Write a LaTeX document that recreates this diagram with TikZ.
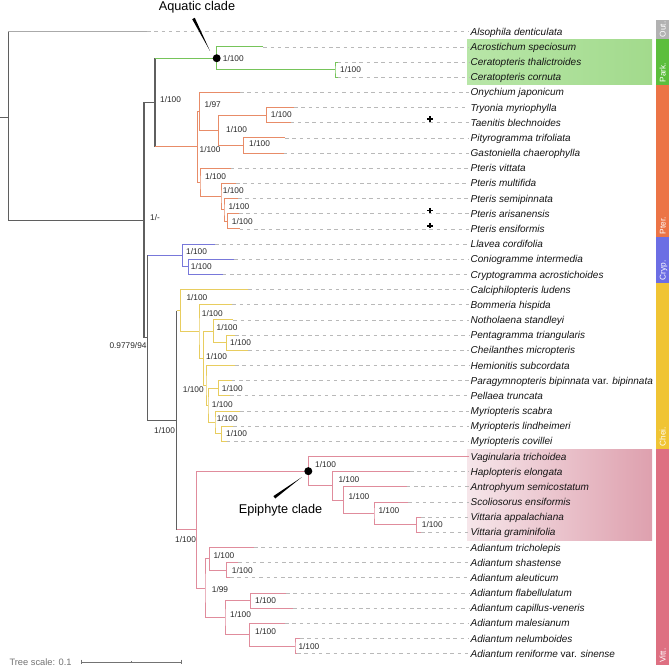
\documentclass[tikz,border=0pt]{standalone}
\usepackage{fontspec}
\setmainfont{Liberation Sans}
\usetikzlibrary{calc}
\definecolor{cgreen}{RGB}{118,196,90}
\definecolor{corange}{RGB}{232,140,104}
\definecolor{cblue}{RGB}{120,120,218}
\definecolor{cyellow}{RGB}{232,205,95}
\definecolor{cpink}{RGB}{224,140,156}
\definecolor{cback}{RGB}{95,95,95}
\definecolor{cout}{RGB}{170,170,170}
\definecolor{cdash}{RGB}{185,185,185}
\definecolor{ctxt}{RGB}{20,20,20}
\definecolor{cbs}{RGB}{40,40,40}
\definecolor{bout}{RGB}{178,178,178}
\definecolor{bpark}{RGB}{92,190,60}
\definecolor{bpter}{RGB}{236,116,70}
\definecolor{bcryp}{RGB}{108,110,228}
\definecolor{bchei}{RGB}{240,196,52}
\definecolor{bvitt}{RGB}{222,112,130}
\definecolor{hgL}{RGB}{184,230,168}
\definecolor{hgR}{RGB}{162,218,140}
\definecolor{hpL}{RGB}{246,230,234}
\definecolor{hpR}{RGB}{222,160,174}
\newcommand{\fTX}{\fontsize{10}{12}\selectfont\itshape}
\newcommand{\fBS}{\fontsize{8.3}{10}\selectfont}
\newcommand{\kids}[4]{\draw[#1,br] (#3) -| (#2) |- (#4);}
\begin{document}
\begin{tikzpicture}[x=1pt,y=-1pt,
  br/.style={line width=0.9pt},
  bb/.style={draw=cback,line width=1.1pt},
  dashl/.style={draw=cdash,line width=0.7pt,dash pattern=on 3.5pt off 3.8pt},
  taxon/.style={anchor=west,font=\fTX,text=ctxt,inner xsep=1.5pt,inner ysep=0pt,text height=7.2pt,text depth=0pt},
  bs/.style={anchor=west,font=\fBS,text=cbs,inner sep=0pt,text height=5.9pt,text depth=0pt},
  bandlab/.style={rotate=90,anchor=west,font=\fontsize{8.3}{10}\selectfont,text=white,inner sep=0pt,text height=6pt,text depth=0pt},
  annot/.style={font=\fontsize{12.7}{15}\selectfont,text=black,anchor=base,inner sep=0pt}]
\useasboundingbox (0,0) rectangle (669,668);

% highlight boxes
\fill[left color=hgL,right color=hgR] (467,39.3) rectangle (652,85);
\fill[left color=hpL,right color=hpR] (467,449) rectangle (652,540);

% clade colour strip
\fill[bout] (656,20.5) rectangle (669,39.3);
\fill[bpark] (656,39.3) rectangle (669,85);
\fill[bpter] (656,85) rectangle (669,236.7);
\fill[bcryp] (656,236.7) rectangle (669,282.7);
\fill[bchei] (656,282.7) rectangle (669,449);
\fill[bvitt] (656,449) rectangle (669,665);
\node[bandlab] (sOut) at (662.5,37.5) {Out.};
\node[bandlab] (sPark) at (662.5,82.5) {Park.};
\node[bandlab] (sPter) at (662.5,234.5) {Pter.};
\node[bandlab] (sCryp) at (662.5,280.5) {Cryp.};
\node[bandlab] (sChei) at (662.5,446.5) {Chei.};
\node[bandlab] (sVitt) at (662.5,663) {Vitt.};

% leaves and taxon labels
\coordinate (l1) at (147,31.70);   \node[taxon] (t1) at (469,31.70) {Alsophila denticulata};
\coordinate (l2) at (263.3,46.87); \node[taxon] (t2) at (469,46.87) {Acrostichum speciosum};
\coordinate (l3) at (337.5,62.04); \node[taxon] (t3) at (469,62.04) {Ceratopteris thalictroides};
\coordinate (l4) at (337.5,77.21); \node[taxon] (t4) at (469,77.21) {Ceratopteris cornuta};
\coordinate (l5) at (240,92.38);   \node[taxon] (t5) at (469,92.38) {Onychium japonicum};
\coordinate (l6) at (294,107.55);  \node[taxon] (t6) at (469,107.55) {Tryonia myriophylla};
\coordinate (l7) at (290.5,122.72);\node[taxon] (t7) at (469,122.72) {Taenitis blechnoides};
\coordinate (l8) at (285,137.89);  \node[taxon] (t8) at (469,137.89) {Pityrogramma trifoliata};
\coordinate (l9) at (283.5,153.06);\node[taxon] (t9) at (469,153.06) {Gastoniella chaerophylla};
\coordinate (l10) at (230.7,168.23);\node[taxon] (t10) at (469,168.23) {Pteris vittata};
\coordinate (l11) at (236,183.40); \node[taxon] (t11) at (469,183.40) {Pteris multifida};
\coordinate (l12) at (238,198.57); \node[taxon] (t12) at (469,198.57) {Pteris semipinnata};
\coordinate (l13) at (239,213.74); \node[taxon] (t13) at (469,213.74) {Pteris arisanensis};
\coordinate (l14) at (239.5,228.91);\node[taxon] (t14) at (469,228.91) {Pteris ensiformis};
\coordinate (l15) at (215,244.08); \node[taxon] (t15) at (469,244.08) {Llavea cordifolia};
\coordinate (l16) at (234.3,259.25);\node[taxon] (t16) at (469,259.25) {Coniogramme intermedia};
\coordinate (l17) at (222.7,274.42);\node[taxon] (t17) at (469,274.42) {Cryptogramma acrostichoides};
\coordinate (l18) at (248.3,289.59);\node[taxon] (t18) at (469,289.59) {Calciphilopteris ludens};
\coordinate (l19) at (232.3,304.76);\node[taxon] (t19) at (469,304.76) {Bommeria hispida};
\coordinate (l20) at (233.3,319.93);\node[taxon] (t20) at (469,319.93) {Notholaena standleyi};
\coordinate (l21) at (235,335.10); \node[taxon] (t21) at (469,335.10) {Pentagramma triangularis};
\coordinate (l22) at (248.3,350.27);\node[taxon] (t22) at (469,350.27) {Cheilanthes micropteris};
\coordinate (l23) at (235,365.44); \node[taxon] (t23) at (469,365.44) {Hemionitis subcordata};
\coordinate (l24) at (231.7,380.61);\node[taxon] (t24) at (469,380.61) {Paragymnopteris bipinnata \textup{var.} bipinnata};
\coordinate (l25) at (230,395.78); \node[taxon] (t25) at (469,395.78) {Pellaea truncata};
\coordinate (l26) at (240,410.95); \node[taxon] (t26) at (469,410.95) {Myriopteris scabra};
\coordinate (l27) at (233.3,426.12);\node[taxon] (t27) at (469,426.12) {Myriopteris lindheimeri};
\coordinate (l28) at (226.7,441.29);\node[taxon] (t28) at (469,441.29) {Myriopteris covillei};
\coordinate (l29) at (469,456.46); \node[taxon] (t29) at (469,456.46) {Vaginularia trichoidea};
\coordinate (l30) at (410,471.63); \node[taxon] (t30) at (469,471.63) {Haplopteris elongata};
\coordinate (l31) at (406.7,486.80);\node[taxon] (t31) at (469,486.80) {Antrophyum semicostatum};
\coordinate (l32) at (408.3,501.97);\node[taxon] (t32) at (469,501.97) {Scoliosorus ensiformis};
\coordinate (l33) at (421,517.14); \node[taxon] (t33) at (469,517.14) {Vittaria appalachiana};
\coordinate (l34) at (421,532.31); \node[taxon] (t34) at (469,532.31) {Vittaria graminifolia};
\coordinate (l35) at (254,547.48); \node[taxon] (t35) at (469,547.48) {Adiantum tricholepis};
\coordinate (l36) at (238.3,562.65);\node[taxon] (t36) at (469,562.65) {Adiantum shastense};
\coordinate (l37) at (230,577.82); \node[taxon] (t37) at (469,577.82) {Adiantum aleuticum};
\coordinate (l38) at (286,592.99); \node[taxon] (t38) at (469,592.99) {Adiantum flabellulatum};
\coordinate (l39) at (293.3,608.16);\node[taxon] (t39) at (469,608.16) {Adiantum capillus-veneris};
\coordinate (l40) at (285,623.33); \node[taxon] (t40) at (469,623.33) {Adiantum malesianum};
\coordinate (l41) at (300,638.50); \node[taxon] (t41) at (469,638.50) {Adiantum nelumboides};
\coordinate (l42) at (297,653.67); \node[taxon] (t42) at (469,653.67) {Adiantum reniforme \textup{var.} sinense};

\foreach \i in {1,...,28,30,31,...,42} \draw[dashl] (l\i) -- (t\i.west);

% internal nodes
\coordinate (nCer) at (335,69.63);
\coordinate (nAq) at (216.7,58.25);
\coordinate (nD) at (266.7,115.14);
\coordinate (nE) at (243.3,145.48);
\coordinate (nC) at (218.3,130.31);
\coordinate (nA) at (199.3,111.35);
\coordinate (nH) at (227.3,221.33);
\coordinate (nG) at (224,209.95);
\coordinate (nF) at (221,196.68);
\coordinate (nB) at (200,182.46);
\coordinate (nPter) at (197.3,146.91);
\coordinate (nPP) at (155,102.58);
\coordinate (nCr2) at (188.3,266.84);
\coordinate (nCryp) at (182.7,255.46);
\coordinate (nPC) at (226.7,342.69);
\coordinate (nN1) at (213.3,331.31);
\coordinate (nPPe) at (218.3,388.20);
\coordinate (nM2) at (221.7,433.71);
\coordinate (nM1) at (215,422.33);
\coordinate (nN3) at (208,405.27);
\coordinate (nN2) at (206,385.36);
\coordinate (nCh2) at (203.3,358.34);
\coordinate (nCh1) at (199,331.55);
\coordinate (nCh0) at (180.7,310.57);
\coordinate (nE4) at (416.7,524.73);
\coordinate (nE3) at (374,513.35);
\coordinate (nE2) at (343.3,500.08);
\coordinate (nE1) at (332.7,485.86);
\coordinate (nE0) at (308.3,471.16);
\coordinate (nA1b) at (226.7,570.24);
\coordinate (nA1) at (209.3,558.86);
\coordinate (nA2a) at (250.7,600.58);
\coordinate (nA2c) at (295,646.09);
\coordinate (nA2b) at (249.3,634.71);
\coordinate (nA2) at (225,617.65);
\coordinate (nA0) at (205,588.26);
\coordinate (nV0) at (196.7,529.71);
\coordinate (nCV) at (176.7,420.14);
\coordinate (nCCV) at (147.7,337.80);
\coordinate (nIn) at (144,220.19);
\coordinate (nRoot) at (8.3,117.5);
\coordinate (rStub) at (0,117.5);

% backbone
\draw[bb] (rStub) -- (nRoot);
\draw[bb] (nRoot |- l1) -- (nRoot |- nIn) -- (nIn);
\draw[cout,line width=1pt] (nRoot |- l1) -- (l1);
\draw[bb] (nPP) -| (nIn) |- (nCCV);
\draw[bb] (nPP |- nAq) -- (nPP |- nPter);
\draw[cgreen,br] (nPP |- nAq) -- (nAq);
\draw[corange,br] (nPP |- nPter) -- (nPter);
\draw[bb] (nCCV |- nCryp) -- (nCCV |- nCV) -- (nCV);
\draw[cblue,br] (nCCV |- nCryp) -- (nCryp);
\draw[bb] (nCV |- nCh0) -- (nCV |- nV0);
\draw[cyellow,br] (nCV |- nCh0) -- (nCh0);
\draw[cpink,br] (nCV |- nV0) -- (nV0);

% Parkerioideae
\kids{cgreen}{nAq}{l2}{nCer}
\kids{cgreen}{nCer}{l3}{l4}
% Pteridoideae
\kids{corange}{nPter}{nA}{nB}
\kids{corange}{nA}{l5}{nC}
\kids{corange}{nC}{nD}{nE}
\kids{corange}{nD}{l6}{l7}
\kids{corange}{nE}{l8}{l9}
\kids{corange}{nB}{l10}{nF}
\kids{corange}{nF}{l11}{nG}
\kids{corange}{nG}{l12}{nH}
\kids{corange}{nH}{l13}{l14}
% Cryptogrammoideae
\kids{cblue}{nCryp}{l15}{nCr2}
\kids{cblue}{nCr2}{l16}{l17}
% Cheilanthoideae
\kids{cyellow}{nCh0}{l18}{nCh1}
\kids{cyellow}{nCh1}{l19}{nCh2}
\kids{cyellow}{nCh2}{nN1}{nN2}
\kids{cyellow}{nN1}{l20}{nPC}
\kids{cyellow}{nPC}{l21}{l22}
\kids{cyellow}{nN2}{l23}{nN3}
\kids{cyellow}{nN3}{nPPe}{nM1}
\kids{cyellow}{nPPe}{l24}{l25}
\kids{cyellow}{nM1}{l26}{nM2}
\kids{cyellow}{nM2}{l27}{l28}
% Vittarioideae
\kids{cpink}{nV0}{nE0}{nA0}
\kids{cpink}{nE0}{l29}{nE1}
\kids{cpink}{nE1}{l30}{nE2}
\kids{cpink}{nE2}{l31}{nE3}
\kids{cpink}{nE3}{l32}{nE4}
\kids{cpink}{nE4}{l33}{l34}
\kids{cpink}{nA0}{nA1}{nA2}
\kids{cpink}{nA1}{l35}{nA1b}
\kids{cpink}{nA1b}{l36}{l37}
\kids{cpink}{nA2}{nA2a}{nA2b}
\kids{cpink}{nA2a}{l38}{l39}
\kids{cpink}{nA2b}{l40}{nA2c}
\kids{cpink}{nA2c}{l41}{l42}

% support values
\node[bs] (bAq) at (222.7,58.3) {1/100};
\node[bs] (bCer) at (340,69.8) {1/100};
\node[bs] (bPP) at (160,99.3) {1/100};
\node[bs] (bA) at (204.5,104.3) {1/97};
\node[bs] (bC) at (226,130) {1/100};
\node[bs] (bD) at (270.7,114.7) {1/100};
\node[bs] (bE) at (249,143.8) {1/100};
\node[bs] (bPter) at (199.5,150) {1/100};
\node[bs] (bB) at (205,176.7) {1/100};
\node[bs] (bF) at (222.7,190.7) {1/100};
\node[bs] (bG) at (228.3,206.5) {1/100};
\node[bs] (bH) at (231.7,221.7) {1/100};
\node[bs] (bIn) at (150,217.3) {1/-};
\node[bs] (bCryp) at (186,251.7) {1/100};
\node[bs] (bCr2) at (190.7,266.7) {1/100};
\node[bs] (bCh0) at (186.3,297.3) {1/100};
\node[bs] (bCh1) at (201.7,314) {1/100};
\node[bs] (bN1) at (216.5,328) {1/100};
\node[bs] (bPC) at (230,342.3) {1/100};
\node[bs] (bCh2) at (206,356.3) {1/100};
\node[bs] (bN2) at (182.7,389.3) {1/100};
\node[bs] (bPPe) at (221.7,388.3) {1/100};
\node[bs] (bN3) at (211.7,404.7) {1/100};
\node[bs] (bM1) at (216.7,419) {1/100};
\node[bs] (bM2) at (226,433.3) {1/100};
\node[bs,anchor=east] (bCCV) at (146.7,345.7) {0.9779/94};
\node[bs] (bCV) at (154,430.8) {1/100};
\node[bs] (bV0) at (175,539.3) {1/100};
\node[bs] (bE0) at (315,464.3) {1/100};
\node[bs] (bE1) at (338.3,480) {1/100};
\node[bs] (bE2) at (348.3,496.7) {1/100};
\node[bs] (bE3) at (378.3,510.7) {1/100};
\node[bs] (bE4) at (421.7,524.3) {1/100};
\node[bs] (bA1) at (213.3,555.7) {1/100};
\node[bs] (bA1b) at (231.7,570.7) {1/100};
\node[bs] (bA0) at (211.7,590) {1/99};
\node[bs] (bA2) at (230,614.7) {1/100};
\node[bs] (bA2a) at (255,600.7) {1/100};
\node[bs] (bA2b) at (255,631.7) {1/100};
\node[bs] (bA2c) at (298.3,647) {1/100};

% crosses
\foreach \c/\yy in {x7/119.2,x13/210.5,x14/225.7}{
  \coordinate (\c) at (430,\yy);
  \draw[black,line width=1.7pt] ($(\c)+(-2.7,0)$) -- ($(\c)+(2.7,0)$);
  \draw[black,line width=1.7pt] ($(\c)+(0,-2.7)$) -- ($(\c)+(0,2.7)$);
}

% clade annotations
\node[annot] (aqT) at (197,10.8) {Aquatic clade};
\fill[black] (192.2,19.2) -- (194.8,17.8) -- (210,51) -- cycle;
\fill[black] (nAq) circle (4);
\node[annot] (epT) at (280.5,513) {Epiphyte clade};
\fill[black] (273.4,496.1) -- (275.2,498.5) -- (302,477) -- cycle;
\fill[black] (nE0) circle (4);

% tree scale
\node[anchor=base west,font=\fontsize{9.3}{11}\selectfont,text=black!55,inner sep=0pt] (tsc) at (9.3,665.3) {Tree scale: 0.1};
\coordinate (sb1) at (81.7,662);
\coordinate (sbm) at (131.7,662);
\coordinate (sb2) at (181.7,662);
\draw[black!55,line width=0.8pt] (sb1) -- (sb2);
\draw[black!55,line width=0.8pt] ($(sb1)+(0,-2.3)$) -- ($(sb1)+(0,2.3)$);
\draw[black!55,line width=0.8pt] ($(sb2)+(0,-2.3)$) -- ($(sb2)+(0,2.3)$);
\draw[black!55,line width=0.6pt] (sbm) -- ($(sbm)+(0,-1.5)$);
\end{tikzpicture}
\end{document}
